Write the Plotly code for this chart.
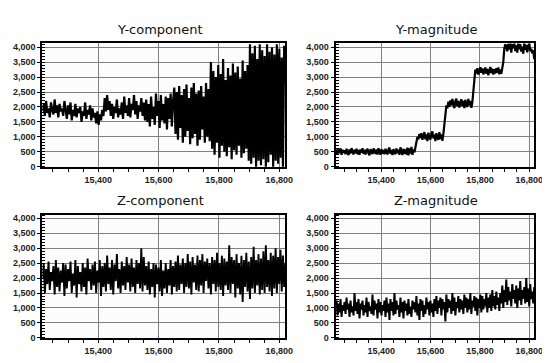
import numpy as np
import plotly.graph_objects as go

# ---- data ----
x_start, x_end = 15215, 16020
x_ticks = [15400, 15600, 15800, 16000]
x_ticktext = ["15,400", "15,600", "15,800", "16,800"]
y_ticks = [0, 500, 1000, 1500, 2000, 2500, 3000, 3500, 4000]
y_ticktext = ["0", "500", "1,000", "1,500", "2,000", "2,500", "3,000", "3,500", "4,000"]
titles = ["Y-component", "Y-magnitude", "Z-component", "Z-magnitude"]

y_component = [
    1850, 2100, 1700, 2200, 1800, 1950, 1650, 2150, 1900, 1750,
    2250, 1800, 2050, 1650, 2100, 1850, 1950, 1700, 2200, 1800,
    1600, 2050, 1750, 2150, 1550, 1900, 1700, 2100, 1650, 1950,
    1800, 2000, 1500, 1850, 1700, 2150, 1600, 1900, 1750, 2050,
    1550, 1950, 1650, 1800, 1450,
    1850, 1400, 1750, 1550, 1900, 1700, 2300, 1850, 2400, 1900,
    2200, 1700, 2100, 1600, 2000, 1800, 2250, 1650, 1950, 1750,
    2150, 1600, 2350, 1800, 2050, 1700, 2300, 1650, 2100, 1900,
    2400, 1750, 2200, 1600, 2050, 1850, 2300, 1700, 2150, 1550,
    2250, 1500, 2100, 1350, 2350, 1600, 2000, 1400, 2450, 1700,
    2200, 1300, 2400, 1550, 2100, 1450, 2350, 1250, 2300, 1600,
    2450, 1350, 2200,
    2650, 1100, 2500, 900, 2700, 1300, 2400, 800, 2600, 1000,
    2750, 1200, 2300, 750, 2650, 950, 2800, 1100, 2450, 700,
    2550, 900, 2700, 1250, 2350, 800, 2800, 1000, 2600, 850,
    3500, 600, 3200, 400, 3000, 800, 3400, 300, 3100, 700,
    3600, 500, 2900, 350, 3300, 650, 3050, 250, 3450, 550,
    3150, 400, 3350, 700, 2950, 300, 3550, 450, 3200, 600,
    3400, 200,
    4100, 100, 3800, 300, 4050, 0, 3600, 200, 4100, 50,
    3900, 250, 3700, 0, 4100, 150, 3850, 400, 4000, 0,
    3750, 200, 4100, 100, 3950, 300, 3650, 0, 4050, 2800,
]

y_magnitude = [
    560, 430, 590, 450, 540, 610, 400, 570, 460, 550,
    420, 600, 480, 390, 580, 440, 620, 500, 410, 570,
    450, 600, 420, 560, 400, 580, 470, 620, 430, 570,
    410, 540, 600, 450, 380, 590, 530, 420, 610, 470,
    430, 580, 410, 620, 490, 400, 590, 440, 560, 420,
    600, 460, 410, 580, 640, 430, 560, 390, 590, 470,
    420, 610, 450, 570, 400, 650, 480, 390, 600, 430,
    580, 410, 640, 380, 610, 440, 660, 400, 580, 480,
    650, 900, 1000, 920, 1100,
    960, 1120, 900, 1060, 1160, 920, 1080, 860, 1140, 980,
    910, 1100, 1180, 950, 1070, 860, 1120, 990, 900, 1160,
    930, 1080, 870, 1100,
    1500, 1950, 2050,
    1950, 2180, 2000, 2220, 2050, 2270, 2080, 1960, 2200, 2280,
    2020, 2200, 1980, 2150, 2260, 2030, 2200, 1960, 2240, 2080,
    2000, 2270, 2050, 2200, 1970, 2150,
    2500, 3100, 3250,
    3120, 3300, 3080, 3260, 3330, 3140, 3290, 3090, 3240, 3320,
    3110, 3270, 3060, 3230, 3340, 3130, 3280, 3080, 3260, 3120,
    3300, 3140, 3320, 3090, 3250, 3110, 3280,
    3500, 3950, 4100,
    4000, 3860, 4120, 3920, 4150, 3820, 4100, 3960, 4150, 3870,
    4060, 3820, 4150, 3930, 4100, 3850, 4020, 3780, 4150, 3900,
    4080, 3830, 4030, 4150, 3870, 3950, 3800, 3900, 3600,
]

z_component = [
    2000, 2500, 1500, 2300, 1800, 2550, 1600, 2200, 1900, 2400,
    1450, 2600, 1700, 2350, 1550, 2250, 1850, 2500, 1400, 2450,
    1650, 2300, 1900, 2550, 1500, 2150, 1750, 2600, 1350, 2400,
    1800, 2200, 1550, 2500, 1700, 2350, 1450, 2650, 1900, 2300,
    1600, 2450, 1750, 2550, 1500, 2250, 1850, 2600, 1400, 2400,
    1700, 2500, 1550, 2750, 1800, 2350, 1600, 2600, 1450, 2450,
    1900, 2800, 1650, 2300, 1500, 2550, 1750, 2400, 1600, 2700,
    1850, 2450, 1550, 2650, 1700, 2350, 1500, 2600, 1800, 2500,
    1650, 3000, 1550, 2700, 1750, 2400, 1600, 2550, 1450, 2300,
    1700, 2500, 1350, 2450, 1800, 2350, 1550, 2600, 1400, 2250,
    1650, 2500, 1500, 2300, 1750, 2600, 1450, 2400, 1700, 2550,
    1550, 2750, 1600, 2450, 1800, 2650, 1500, 2500, 1700, 2800,
    1650, 2550, 1450, 2700, 1850, 2450, 1600, 2750, 1550, 2600,
    1750, 2800, 1500, 2550, 1900, 2650, 1650, 2500, 1450, 2700,
    1800, 2600, 1550, 2850, 1700, 2500, 1600, 2750, 1400, 2650,
    1750, 2550, 1600, 3100, 1500, 2700, 1800, 2600, 1350, 2800,
    1650, 2500, 1450, 2750, 1200, 2600, 1700, 2850, 1550, 2550,
    1300, 2700, 1650, 3050, 1500, 2600, 1750, 2800, 1450, 2650,
    1600, 2900, 1500, 3100, 1700, 2600, 1550, 2850, 1400, 2750,
    1650, 3000, 1500, 2700, 1800, 2950, 1550, 2750, 1700, 2500,
]

z_magnitude = [
    1000, 1250, 750, 1150, 850, 1300, 700, 1100, 900, 1200,
    800, 1350, 950, 1150, 700, 1250, 850, 1050, 750, 1500,
    900, 1200, 800, 1300, 650, 1150, 950, 1250, 750, 1100,
    850, 1350, 700, 1200, 900, 1050, 800, 1450, 750, 1250,
    950, 1150, 650, 1300, 850, 1200, 750, 1100, 900, 1250,
    700, 1350, 850, 1150, 600, 1300, 900, 1200, 750, 1500,
    800, 1250, 950, 1100, 700, 1350, 850, 1200, 650, 1250,
    900, 1150, 750, 1300, 800, 1050, 700, 1250, 950, 1200,
    850, 1400, 750, 1150, 600, 1300, 900, 1250, 700, 1100,
    800, 1350, 950, 1200, 750, 1250, 850, 1150, 700, 1300,
    900, 1400, 800, 1250, 1000, 1350, 750, 1300, 950, 1200,
    550, 1450, 850, 1300, 1000, 1250, 800, 1500, 900, 1350,
    750, 1200, 1000, 1400, 850, 1300, 950, 1250, 800, 1450,
    1000, 1350, 850, 1300, 950, 1500, 800, 1250, 1050, 1400,
    900, 1350, 750, 1300, 1000, 1450, 850, 1400, 950, 1300,
    1050, 1500, 850, 1350, 1000, 1450, 900, 1600, 1050, 1400,
    950, 1550, 1100, 1350, 900, 1500, 1150, 1750, 1000, 1600,
    1200, 1950, 1100, 1700, 1250, 1550, 1050, 1800, 1300, 1600,
    1150, 1750, 1000, 1650, 1250, 1900, 1100, 1600, 1300, 1700,
    1150, 2000, 1200, 1650, 1050, 1800, 1300, 1550, 1150, 1700,
]

series = [y_component, y_magnitude, z_component, z_magnitude]
line_widths = [2.2, 2.2, 1.9, 2.0]

# ---- layout geometry (pixels in a 550x363 canvas) ----
W, H = 550, 363
cols = [(35, 282), (333, 535)]
rows = [(35, 161), (209, 335)]
title_pos = [(155, 21), (435, 21), (155, 195), (435, 195)]

fig = go.Figure()
layout = dict(
    width=W, height=H, margin=dict(l=0, r=0, t=0, b=0),
    paper_bgcolor="white", plot_bgcolor="#fcfcfc", showlegend=False,
    annotations=[],
)

tick_font = dict(family="Liberation Sans, Arial, sans-serif", size=9,
                 color="#222", weight="bold")

for i, vals in enumerate(series):
    r, c = divmod(i, 2)
    n = i + 1
    xs = np.linspace(x_start, x_end, len(vals))
    xa = "x" if n == 1 else f"x{n}"
    ya = "y" if n == 1 else f"y{n}"
    fig.add_trace(go.Scatter(x=xs, y=vals, mode="lines",
                             line=dict(color="black", width=line_widths[i]),
                             xaxis=xa, yaxis=ya, hoverinfo="skip"))
    x0, x1 = cols[c]
    yt, yb = rows[r]
    xkey = "xaxis" if n == 1 else f"xaxis{n}"
    ykey = "yaxis" if n == 1 else f"yaxis{n}"
    layout[xkey] = dict(
        domain=[x0 / W, x1 / W], anchor=ya, range=[x_start, x_end],
        tickmode="array", tickvals=x_ticks, ticktext=x_ticktext,
        ticks="outside", ticklen=3, tickcolor="black", tickwidth=1,
        showgrid=True, gridcolor="#808080", gridwidth=1,
        showline=True, linecolor="black", linewidth=2, mirror=True,
        zeroline=False, tickfont=tick_font, fixedrange=True,
        minor=dict(tickmode="linear", tick0=15200, dtick=50, ticks="outside",
                   ticklen=3, tickcolor="black", showgrid=False),
    )
    layout[ykey] = dict(
        domain=[1 - yb / H, 1 - yt / H], anchor=xa, range=[-20, 4125],
        tickmode="array", tickvals=y_ticks, ticktext=y_ticktext,
        ticks="outside", ticklen=3, tickcolor="black", tickwidth=1,
        showgrid=True, gridcolor="#808080", gridwidth=1,
        showline=True, linecolor="black", linewidth=2, mirror=True,
        zeroline=False, tickfont=tick_font, fixedrange=True,
        minor=dict(tickmode="linear", tick0=0, dtick=100, ticks="inside",
                   ticklen=3, tickcolor="black", showgrid=False),
    )
    tx, ty = title_pos[i]
    layout["annotations"].append(dict(
        text=titles[i], x=tx / W, y=1 - ty / H, xref="paper", yref="paper",
        showarrow=False, xanchor="center", yanchor="middle",
        font=dict(family="DejaVu Sans, sans-serif", size=13, color="#111"),
    ))

fig.update_layout(**layout)
fig.write_html("out.html")
